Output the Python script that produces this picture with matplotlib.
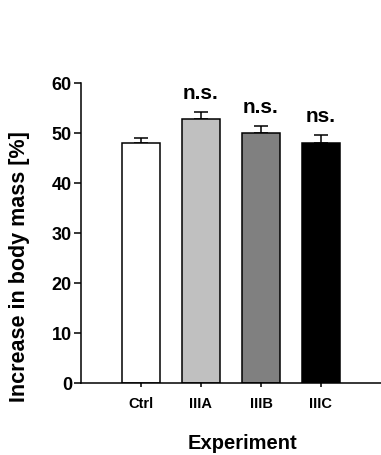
import numpy as np
import matplotlib
matplotlib.use("Agg")
import matplotlib.pyplot as plt

plt.rcParams['font.family'] = ['Liberation Sans', 'DejaVu Sans']
plt.rcParams['font.weight'] = 'bold'

groups = ['Ctrl', 'IIIA', 'IIIB', 'IIIC']
mass_gain = [48.0, 52.8, 50.0, 48.0]
sem = [1.0, 1.5, 1.4, 1.6]
signif = ['', 'n.s.', 'n.s.', 'ns.']
colors = ['white', '#c0c0c0', '#808080', 'black']

W, H = 381, 456
fig = plt.figure(figsize=(W / 100, H / 100), dpi=100)
ax = fig.add_axes([81 / W, (H - 384) / H, 300 / W, 300 / H])

x = np.arange(len(groups))
ax.bar(x, mass_gain, width=0.62, color=colors, edgecolor='black', linewidth=1.1, zorder=2)
ax.errorbar(x, mass_gain, yerr=[np.zeros(len(sem)), sem], fmt='none', ecolor='black',
            elinewidth=1.1, capsize=4.7, capthick=1.1, zorder=1)

for xi, m, e, s in zip(x, mass_gain, sem, signif):
    if s:
        ax.annotate(s, (xi, m + e), xytext=(0, 14), textcoords='offset points',
                    ha='center', va='center', fontsize=15, fontweight='bold')

ax.set_xlim(-1, 4)
ax.set_ylim(0, 60)
ax.set_yticks(range(0, 61, 10))
ax.set_xticks(x)
ax.set_xticklabels(groups, fontsize=10.5, fontweight='bold')
ax.tick_params(axis='y', length=5, width=1.1, labelsize=13, pad=1.5)
ax.tick_params(axis='x', length=3, width=1.1, pad=6.5)
for side in ['top', 'right']:
    ax.spines[side].set_visible(False)
for side in ['left', 'bottom']:
    ax.spines[side].set_linewidth(1.1)

fig.text(242 / W, (H - 444) / H, 'Experiment', ha='center', va='center',
         fontsize=14.5, fontweight='bold')
fig.text(19.5 / W, (H - 267) / H, 'Increase in body mass [%]', rotation=90,
         ha='center', va='center', fontsize=15.5, fontweight='bold')

fig.savefig('out.png', dpi=100)
